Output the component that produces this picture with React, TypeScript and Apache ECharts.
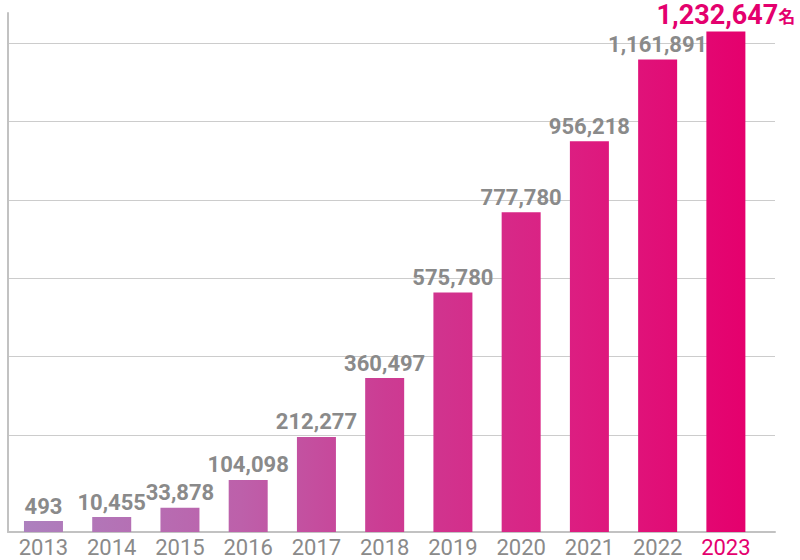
import React, { useEffect, useRef } from "react";
import * as echarts from "echarts";

const years = ["2013", "2014", "2015", "2016", "2017", "2018", "2019", "2020", "2021", "2022", "2023"];
const members = [493, 10455, 33878, 104098, 212277, 360497, 575780, 777780, 956218, 1161891, 1232647];
const unitLabel = "名";

const fmt = (v: number) => v.toLocaleString("en-US");

export default function App() {
  const ref = useRef<HTMLDivElement>(null);
  useEffect(() => {
    if (!ref.current) return;
    const chart = echarts.init(ref.current, null, { renderer: "svg" });
    const font = "Roboto, 'Noto Sans CJK JP', sans-serif";
    const barColor = new echarts.graphic.LinearGradient(
      24, 0, 746, 0,
      [
        { offset: 0, color: "#ad80be" },
        { offset: 0.3, color: "#bd60aa" },
        { offset: 0.5, color: "#cc3c93" },
        { offset: 0.75, color: "#dc1f82" },
        { offset: 1, color: "#e5006d" },
      ],
      true
    );
    const last = members.length - 1;
    const hidden = {
      axisLine: { show: false },
      axisTick: { show: false },
      axisLabel: { show: false },
      splitLine: { show: false },
    };
    chart.setOption({
      animation: false,
      grid: [
        { left: 9.35, right: 40, top: 13, bottom: 28 },
        { left: 8, right: 25, top: 43, bottom: 125 },
        { left: 8, right: 25, top: 13, bottom: 28 },
      ],
      xAxis: [
        {
          type: "category",
          gridIndex: 0,
          data: years,
          axisLine: { show: false, onZero: false },
          axisTick: { show: false },
          axisLabel: {
            margin: 4,
            fontFamily: font,
            fontSize: 22,
            color: (v: string) => (v === years[last] ? "#e4006e" : "#8a8a8a"),
          },
        },
        { type: "value", gridIndex: 1, min: 0, max: 1, ...hidden },
        {
          type: "value",
          gridIndex: 2,
          min: 0,
          max: 1,
          ...hidden,
          axisLine: { show: true, onZero: false, lineStyle: { color: "#c2c2c2", width: 2 } },
        },
      ],
      yAxis: [
        {
          type: "value",
          gridIndex: 0,
          min: -27000,
          max: 1279000,
          startValue: -27000,
          ...hidden,
        },
        {
          type: "value",
          gridIndex: 1,
          min: 0,
          max: 5,
          interval: 1,
          ...hidden,
          splitLine: { show: true, lineStyle: { color: "#cccccc", width: 1 } },
        },
        {
          type: "value",
          gridIndex: 2,
          min: 0,
          max: 1,
          ...hidden,
          axisLine: { show: true, onZero: false, lineStyle: { color: "#c2c2c2", width: 2 } },
        },
      ],
      series: [
        {
          type: "bar",
          xAxisIndex: 0,
          yAxisIndex: 0,
          barWidth: 39,
          itemStyle: { color: barColor },
          data: members.map((v, i) =>
            i === last
              ? {
                  value: v,
                  label: {
                    show: true,
                    position: "top",
                    distance: 3,
                    formatter: `{a|${fmt(v)}}{b|${unitLabel}}`,
                    rich: {
                      a: { fontFamily: font, fontSize: 27, fontWeight: "bold", color: "#e4006e" },
                      b: { fontFamily: font, fontSize: 17, fontWeight: "bold", color: "#e4006e", padding: [4, 0, 0, 0] },
                    },
                  },
                }
              : v
          ),
          label: {
            show: true,
            position: "top",
            distance: 4,
            fontFamily: font,
            fontSize: 22,
            fontWeight: "bold",
            color: "#8a8a8a",
            formatter: (p: any) => fmt(p.value),
          },
        },
      ],
    });
    return () => chart.dispose();
  }, []);
  return (
    <div style={{ position: "absolute", left: 0, top: 0 }}>
      <div ref={ref} style={{ width: 800, height: 560 }} />
    </div>
  );
}
